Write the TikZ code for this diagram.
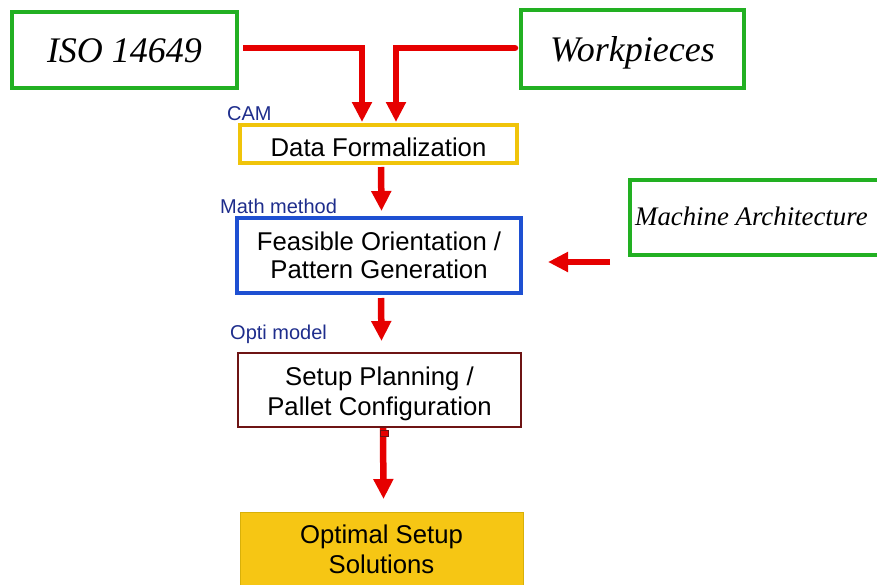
\documentclass[tikz,border=0pt]{standalone}
\usepackage{fontspec}
\setmainfont{Liberation Sans}
\newfontfamily\serifit{Liberation Serif}
\usetikzlibrary{arrows.meta,calc}
\definecolor{boxgreen}{RGB}{34,176,34}
\definecolor{boxgold}{RGB}{240,196,10}
\definecolor{boxblue}{RGB}{30,80,210}
\definecolor{boxmaroon}{RGB}{110,20,20}
\definecolor{fillgold}{RGB}{246,198,20}
\definecolor{arrowred}{RGB}{230,0,0}
\definecolor{labelnavy}{RGB}{30,45,140}
% a line of text whose box has a fixed height and no depth,
% so that its vertical place inside a node can be set exactly
\newcommand{\fixline}[2]{\smash{#2}\rule{0pt}{#1}}
\newcommand{\fixlast}[1]{\smash{#1}}
\tikzset{
  inbox/.style={draw=boxgreen, line width=4pt, inner sep=0pt, outer sep=0pt,
    font=\serifit\itshape\fontsize{36}{40}\selectfont},
  stepbox/.style={line width=3pt, inner sep=0pt, outer sep=0pt, align=center,
    font=\fontsize{25.7}{30}\selectfont},
  tag/.style={anchor=west, inner sep=0pt, text=labelnavy,
    font=\fontsize{20}{22}\selectfont},
  flow/.style={draw=arrowred, line width=6.5pt,
    -{Triangle[length=20pt,width=19pt]}}
}
\begin{document}
\begin{tikzpicture}[x=1pt,y=-1pt]
\useasboundingbox (0,0) rectangle (877,584);
\clip (0,0) rectangle (877,584);

% input boxes
\node[inbox, minimum width=225, minimum height=76] (iso) at (124.5,50) {\fixline{25.8pt}{ISO 14649}};
\node[inbox, minimum width=223, minimum height=78] (work) at (632.5,49) {\fixline{24.8pt}{Workpieces}};
\node[inbox, minimum width=270, minimum height=75] (mach) at (765,217.5) {};
\node[anchor=base west, inner sep=0pt, font=\serifit\itshape\fontsize{26.8}{30}\selectfont]
  (machlbl) at ([xshift=5pt,yshift=-7.5pt]mach.west) {Machine Architecture};

% process chain
\node[stepbox, draw=boxgold, line width=4pt, minimum width=277, minimum height=38]
  (data) at (378.5,144) {\fixline{25.7pt}{Data Formalization}};
\node[stepbox, draw=boxblue, line width=3.5pt, minimum width=284, minimum height=75,
  font=\fontsize{25.7}{28}\selectfont]
  (feas) at (379,255.5) {\fixline{17.7pt}{Feasible Orientation /}\\\fixlast{Pattern Generation}};
\node[stepbox, draw=boxmaroon, line width=2.5pt, minimum width=283, minimum height=74]
  (setup) at (379.5,390) {\fixline{20.7pt}{Setup Planning /}\\\fixlast{Pallet Configuration}};
\node[stepbox, draw=boxgold!90!black, line width=1pt, fill=fillgold, minimum width=283, minimum height=78]
  (opt) at (381.5,551) {\fixline{14.7pt}{Optimal Setup}\\\fixlast{Solutions}};

% method tags
\node[tag] (tcam) at (227,114) {CAM};
\node[tag] (tmath) at (220,206) {Math method};
\node[tag] (topti) at (230,334) {Opti model};

% connectors
\draw[flow] ([xshift=6pt,yshift=2pt]iso.east) -| ([xshift=-16.5pt,yshift=3pt]data.north);
\draw[flow, line cap=round] ([xshift=-6pt,yshift=1pt]work.west) -| ([xshift=17.5pt,yshift=3pt]data.north);
\draw[flow] ([xshift=2.5pt,yshift=-4pt]data.south) -- ([xshift=2.5pt,yshift=7pt]feas.north);
\draw[flow] ($(mach.west |- feas.east)+(-20,6.5)$) -- ($(feas.east)+(27,6.5)$);
\draw[flow] ([xshift=2pt,yshift=-5pt]feas.south) -- ([xshift=2pt,yshift=12pt]setup.north);
\draw[flow] ([xshift=3.5pt,yshift=-1pt]setup.south) -- ([xshift=2pt,yshift=13pt]opt.north);
\draw[boxmaroon, line width=1pt, fill=arrowred] ($(setup.south)+(0.5,3)$) rectangle ($(setup.south)+(8.5,9)$);
\end{tikzpicture}
\end{document}
